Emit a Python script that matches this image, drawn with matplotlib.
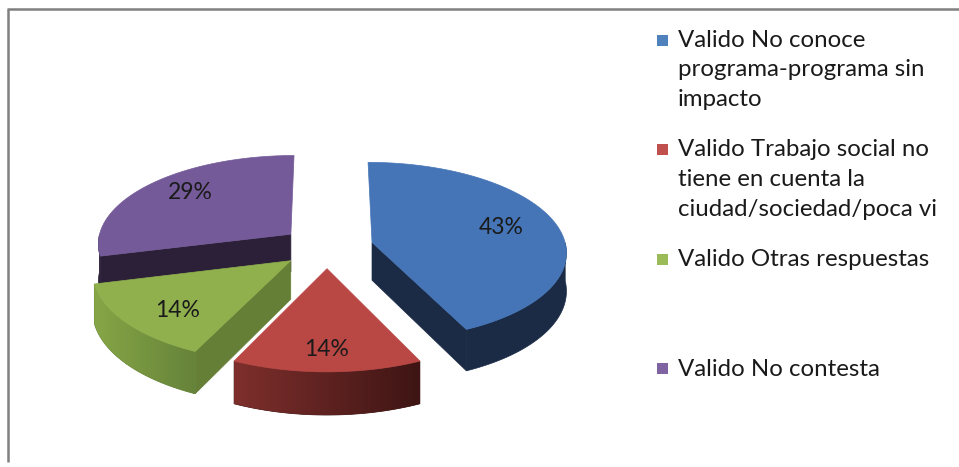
import numpy as np
import matplotlib.pyplot as plt
from matplotlib.patches import Polygon, Rectangle
from matplotlib.colors import to_rgb

# data
labels = ["Valido No conoce\nprograma-programa sin\nimpacto",
          "Valido Trabajo social no\ntiene en cuenta la\nciudad/sociedad/poca vi",
          "Valido Otras respuestas",
          "Valido No contesta"]
values = [43, 14, 14, 29]
pct_labels = ["43%", "14%", "14%", "29%"]

top_colors = ["#4575b7", "#b94744", "#8fb04d", "#745a98"]
side_light = ["#1b2b45", "#7e2f2c", "#86a646", "#2c2039"]
side_dark = ["#1b2b45", "#3e1514", "#66833a", "#2c2039"]
cut_colors = ["#1b2b45", "#5a1f1d", "#667f36", "#2c2039"]
legend_colors = ["#4f81bd", "#c0504d", "#9bbb59", "#8064a2"]

plt.rcParams['font.family'] = ['Lato', 'DejaVu Sans']

fig = plt.figure(figsize=(9.59, 4.67), dpi=100)
ax = fig.add_axes([0, 0, 1, 1])

# 3d pie projection (pixel space)
cx, cy = 327, 247
R = 194
tilt = 0.457
persp = 0.097
depth = 38
explode = 0.239


def proj(X, Y, down=0.0):
    s = 1.0 / (1.0 + persp * Y)
    return cx + R * X * s, cy - R * tilt * Y * s + depth * down * s


fracs = np.array(values, dtype=float) / sum(values)
ends = np.cumsum(fracs) * 360
starts = ends - fracs * 360

slices = []
for i in range(len(values)):
    mid = np.radians((starts[i] + ends[i]) / 2)
    ox, oy = explode * np.sin(mid), explode * np.cos(mid)
    slices.append((oy, i, ox))

z = 1
# back to front
for oy, i, ox in sorted(slices, reverse=True):
    t1, t2 = starts[i], ends[i]
    th = np.radians(np.linspace(t1, t2, 150))
    X = ox + np.sin(th)
    Y = oy + np.cos(th)

    # radial cut faces
    for t, n in ((t1, t1 - 90), (t2, t2 + 90)):
        if np.cos(np.radians(n)) < -1e-6:
            ex, ey = ox + np.sin(np.radians(t)), oy + np.cos(np.radians(t))
            pts = [proj(ox, oy), proj(ex, ey), proj(ex, ey, 1), proj(ox, oy, 1)]
            ax.add_patch(Polygon(pts, closed=True, fc=cut_colors[i],
                                 ec=cut_colors[i], lw=0.5, zorder=z))
            z += 1

    # outer wall (front half only), shaded left to right
    front = np.cos(th) < 0
    if front.sum() > 1:
        xs_top, ys_top = proj(X[front], Y[front])
        xs_bot, ys_bot = proj(X[front], Y[front], 1)
        pts = list(zip(xs_top, ys_top)) + list(zip(xs_bot[::-1], ys_bot[::-1]))
        wall = Polygon(pts, closed=True, fc=side_dark[i], ec=side_dark[i],
                       lw=0.5, zorder=z)
        ax.add_patch(wall)
        z += 1
        if side_light[i] != side_dark[i]:
            c1, c2 = np.array(to_rgb(side_light[i])), np.array(to_rgb(side_dark[i]))
            u = np.linspace(0, 1, 256)[None, :, None]
            grad = c1 + (c2 - c1) * u
            im = ax.imshow(grad, extent=(xs_top.min(), xs_top.max(),
                                         ys_bot.max(), ys_top.min()),
                           aspect="auto", zorder=z, interpolation="bilinear")
            im.set_clip_path(wall)
            z += 1

    # top face
    ax_, ay_ = proj(ox, oy)
    px, py = proj(X, Y)
    pts = [(ax_, ay_)] + list(zip(px, py))
    ax.add_patch(Polygon(pts, closed=True, fc=top_colors[i],
                         ec=top_colors[i], lw=0.5, zorder=z))
    z += 1

    # percentage label
    mid = np.radians((t1 + t2) / 2)
    lx, ly = proj(ox + 0.7 * np.sin(mid), oy + 0.7 * np.cos(mid))
    ax.text(lx, cy + (ly - cy) * 1.12, pct_labels[i], ha="center", va="center",
            fontsize=16.5, color="#1a1a1a", zorder=50)

# legend
for i, lab in enumerate(labels):
    y0 = 40 + i * 109.5
    ax.add_patch(Rectangle((657, y0 - 5.5), 11, 11, fc=legend_colors[i],
                           ec="none", zorder=50))
    ax.text(678, y0 - 10, lab, ha="left", va="top", fontsize=17.3,
            color="#1a1a1a", linespacing=1.5, zorder=50)

# chart frame
ax.plot([7, 959], [9, 9], color="#808080", lw=1.8, solid_capstyle="butt")
ax.plot([8, 8], [9, 462], color="#808080", lw=1.8, solid_capstyle="butt")

ax.set_xlim(0, 959)
ax.set_ylim(467, 0)
ax.axis("off")

fig.savefig("out.png", dpi=100)
